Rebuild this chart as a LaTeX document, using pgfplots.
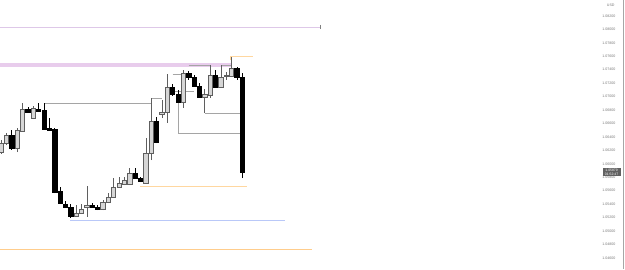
\documentclass[border=0pt]{standalone}
\usepackage{fontspec}
\setmainfont{Liberation Sans}
\usepackage{pgfplots}
\pgfplotsset{compat=1.18}
\definecolor{bullfill}{RGB}{214,214,214}
\definecolor{bulledge}{RGB}{95,95,95}
\definecolor{lav}{RGB}{232,204,236}
\definecolor{lavline}{RGB}{222,200,232}
\definecolor{org}{RGB}{255,215,160}
\definecolor{orgb}{RGB}{255,205,140}
\definecolor{blu}{RGB}{185,200,248}
\definecolor{conn}{RGB}{165,165,165}
\definecolor{axgray}{RGB}{120,120,120}
\pgfplotsset{
 bull/.style={draw=bulledge, fill=bullfill, line width=0.5pt, solid, mark=none},
 bear/.style={draw=black, fill=black, line width=0.5pt, solid, mark=none},
}
% prices in units of 0.0001 (price x 10000); candle index on x
\begin{document}
\begin{tikzpicture}
\begin{axis}[
 width=625pt, height=269pt, scale only axis,
 xmin=-0.19, xmax=116.4, ymin=10443.5, ymax=10843.8,
 axis line style={draw=none}, tick style={draw=none},
 xtick=\empty,
 ytick={10460,10480,10500,10520,10540,10560,10580,10600,10620,10640,10660,10680,10700,10720,10740,10760,10780,10800,10820},
 yticklabels={1.04600,1.04800,1.05000,1.05200,1.05400,1.05600,1.05800,1.06000,1.06200,1.06400,1.06600,1.06800,1.07000,1.07200,1.07400,1.07600,1.07800,1.08000,1.08200},
 yticklabel pos=right,
 scaled y ticks=false,
 yticklabel style={font=\fontsize{3.6}{4}\selectfont, text=axgray, anchor=east, xshift=-6pt},
 unbounded coords=jump,
]
% level lines
\addplot[lavline, line width=1pt] coordinates {(-0.5,10803.6) (59.5,10803.6)};
\addplot[black!50, line width=0.8pt] coordinates {(59.5,10806.6) (59.5,10800.6)};
\addplot[lav, line width=4.2pt] coordinates {(-0.5,10746.8) (43.1,10746.8)};
\addplot[orgb, line width=1.6pt] coordinates {(-0.5,10472.6) (58.0,10472.6)};
\addplot[blu, line width=1pt] coordinates {(12.9,10516.4) (53.0,10516.4)};
\addplot[org, line width=1pt] coordinates {(25.9,10567.0) (45.9,10567.0)};
\addplot[org, line width=1pt] coordinates {(42.9,10754.5) (42.9,10759.0) (47.0,10759.0)};
% connector lines
\addplot[conn, line width=0.6pt] coordinates {(8,10690.5) (28,10690.5)};
\addplot[conn, line width=0.6pt] coordinates {(28,10698.0) (30,10698.0)};
\addplot[conn, line width=0.6pt] coordinates {(33,10690.5) (33,10645.9) (45,10645.9)};
\addplot[conn, line width=0.6pt] coordinates {(38,10675.7) (45,10675.7)};
\addplot[conn, line width=0.6pt] coordinates {(32,10733.7) (34,10733.7)};
\addplot[conn, line width=0.6pt] coordinates {(35,10747.1) (39,10747.1)};
\addplot[conn, line width=0.6pt] coordinates {(41,10747.1) (43,10747.1)};
\addplot[conn, line width=0.6pt] coordinates {(32,10708.4) (36,10708.4)};
% wicks (low, high) of rising candles
\addplot[bulledge, line width=0.5pt] table {
x y
0 10614.7
0 10635.5
0 nan
1 10628.0
1 10645.9
1 nan
3 10617.6
3 10653.3
3 nan
4 10647.4
4 10690.5
4 nan
6 10666.7
6 10686.1
6 nan
14 10520.9
14 10538.8
14 nan
15 10525.4
15 10540.3
15 nan
16 10520.9
16 10567.0
16 nan
19 10531.3
19 10546.2
19 nan
20 10541.7
20 10556.6
20 nan
21 10550.7
21 10578.9
21 nan
22 10564.1
22 10580.4
22 nan
23 10568.5
23 10580.4
23 nan
24 10568.5
24 10593.8
24 nan
27 10571.5
27 10638.5
27 nan
28 10605.7
28 10698.0
28 nan
30 10668.2
30 10695.0
30 nan
31 10660.8
31 10733.7
31 nan
34 10683.1
34 10739.6
34 nan
38 10675.7
38 10711.4
38 nan
39 10698.0
39 10747.1
39 nan
41 10712.9
41 10747.1
41 nan
42 10724.8
42 10736.7
42 nan
43 10729.2
43 10759.0
};
% wicks (low, high) of falling candles
\addplot[black, line width=0.5pt] table {
x y
2 10620.6
2 10650.4
2 nan
5 10675.7
5 10684.6
5 nan
7 10678.6
7 10690.5
7 nan
8 10650.4
8 10690.5
8 nan
9 10648.9
9 10668.2
9 nan
10 10556.6
10 10653.3
10 nan
11 10540.3
11 10565.6
11 nan
12 10534.3
12 10544.7
12 nan
13 10519.4
13 10540.3
13 nan
17 10534.3
17 10541.7
17 nan
18 10531.3
18 10538.8
18 nan
25 10578.9
25 10593.8
25 nan
26 10573.0
26 10580.4
26 nan
29 10631.0
29 10669.7
29 nan
32 10701.0
32 10718.8
32 nan
33 10690.5
33 10709.9
33 nan
35 10724.8
35 10738.2
35 nan
36 10714.4
36 10732.2
36 nan
37 10698.0
37 10720.3
37 nan
40 10712.9
40 10739.6
40 nan
44 10724.8
44 10744.1
44 nan
45 10578.9
45 10735.2
};
% bodies (open/close)
\addplot[bull] coordinates {(-0.4,10617.6) (0.4,10617.6) (0.4,10631.0) (-0.4,10631.0)} --cycle;
\addplot[bull] coordinates {(0.6,10631.0) (1.4,10631.0) (1.4,10642.9) (0.6,10642.9)} --cycle;
\addplot[bear] coordinates {(1.6,10623.6) (2.4,10623.6) (2.4,10642.9) (1.6,10642.9)} --cycle;
\addplot[bull] coordinates {(2.6,10623.6) (3.4,10623.6) (3.4,10650.4) (2.6,10650.4)} --cycle;
\addplot[bull] coordinates {(3.6,10648.9) (4.4,10648.9) (4.4,10681.6) (3.6,10681.6)} --cycle;
\addplot[bear] coordinates {(4.6,10677.2) (5.4,10677.2) (5.4,10681.6) (4.6,10681.6)} --cycle;
\addplot[bull] coordinates {(5.6,10668.2) (6.4,10668.2) (6.4,10683.1) (5.6,10683.1)} --cycle;
\addplot[bear] coordinates {(6.6,10678.6) (7.4,10678.6) (7.4,10681.6) (6.6,10681.6)} --cycle;
\addplot[bear] coordinates {(7.6,10651.9) (8.4,10651.9) (8.4,10680.1) (7.6,10680.1)} --cycle;
\addplot[bear] coordinates {(8.6,10650.4) (9.4,10650.4) (9.4,10653.3) (8.6,10653.3)} --cycle;
\addplot[bear] coordinates {(9.6,10558.1) (10.4,10558.1) (10.4,10651.9) (9.6,10651.9)} --cycle;
\addplot[bear] coordinates {(10.6,10541.7) (11.4,10541.7) (11.4,10559.6) (10.6,10559.6)} --cycle;
\addplot[bear] coordinates {(11.6,10535.8) (12.4,10535.8) (12.4,10540.3) (11.6,10540.3)} --cycle;
\addplot[bear] coordinates {(12.6,10522.4) (13.4,10522.4) (13.4,10535.8) (12.6,10535.8)} --cycle;
\addplot[bull] coordinates {(13.6,10522.4) (14.4,10522.4) (14.4,10526.9) (13.6,10526.9)} --cycle;
\addplot[bull] coordinates {(14.6,10526.9) (15.4,10526.9) (15.4,10532.8) (14.6,10532.8)} --cycle;
\addplot[bull] coordinates {(15.6,10535.8) (16.4,10535.8) (16.4,10538.8) (15.6,10538.8)} --cycle;
\addplot[bear] coordinates {(16.6,10535.8) (17.4,10535.8) (17.4,10538.8) (16.6,10538.8)} --cycle;
\addplot[bear] coordinates {(17.6,10532.8) (18.4,10532.8) (18.4,10535.8) (17.6,10535.8)} --cycle;
\addplot[bull] coordinates {(18.6,10532.8) (19.4,10532.8) (19.4,10543.2) (18.6,10543.2)} --cycle;
\addplot[bull] coordinates {(19.6,10543.2) (20.4,10543.2) (20.4,10550.7) (19.6,10550.7)} --cycle;
\addplot[bull] coordinates {(20.6,10550.7) (21.4,10550.7) (21.4,10565.6) (20.6,10565.6)} --cycle;
\addplot[bull] coordinates {(21.6,10565.6) (22.4,10565.6) (22.4,10571.5) (21.6,10571.5)} --cycle;
\addplot[bull] coordinates {(22.6,10570.0) (23.4,10570.0) (23.4,10576.0) (22.6,10576.0)} --cycle;
\addplot[bull] coordinates {(23.6,10570.0) (24.4,10570.0) (24.4,10586.4) (23.6,10586.4)} --cycle;
\addplot[bear] coordinates {(24.6,10578.9) (25.4,10578.9) (25.4,10586.4) (24.6,10586.4)} --cycle;
\addplot[bear] coordinates {(25.6,10574.5) (26.4,10574.5) (26.4,10578.9) (25.6,10578.9)} --cycle;
\addplot[bull] coordinates {(26.6,10571.5) (27.4,10571.5) (27.4,10616.1) (26.6,10616.1)} --cycle;
\addplot[bull] coordinates {(27.6,10616.1) (28.4,10616.1) (28.4,10663.8) (27.6,10663.8)} --cycle;
\addplot[bear] coordinates {(28.6,10632.5) (29.4,10632.5) (29.4,10663.8) (28.6,10663.8)} --cycle;
\addplot[bull] coordinates {(29.6,10674.2) (30.4,10674.2) (30.4,10677.2) (29.6,10677.2)} --cycle;
\addplot[bull] coordinates {(30.6,10677.2) (31.4,10677.2) (31.4,10714.4) (30.6,10714.4)} --cycle;
\addplot[bear] coordinates {(31.6,10703.9) (32.4,10703.9) (32.4,10714.4) (31.6,10714.4)} --cycle;
\addplot[bear] coordinates {(32.6,10692.0) (33.4,10692.0) (33.4,10703.9) (32.6,10703.9)} --cycle;
\addplot[bull] coordinates {(33.6,10692.0) (34.4,10692.0) (34.4,10735.2) (33.6,10735.2)} --cycle;
\addplot[bear] coordinates {(34.6,10729.2) (35.4,10729.2) (35.4,10735.2) (34.6,10735.2)} --cycle;
\addplot[bear] coordinates {(35.6,10715.8) (36.4,10715.8) (36.4,10729.2) (35.6,10729.2)} --cycle;
\addplot[bear] coordinates {(36.6,10699.5) (37.4,10699.5) (37.4,10715.8) (36.6,10715.8)} --cycle;
\addplot[bull] coordinates {(37.6,10699.5) (38.4,10699.5) (38.4,10703.9) (37.6,10703.9)} --cycle;
\addplot[bull] coordinates {(38.6,10702.4) (39.4,10702.4) (39.4,10732.2) (38.6,10732.2)} --cycle;
\addplot[bear] coordinates {(39.6,10714.4) (40.4,10714.4) (40.4,10732.2) (39.6,10732.2)} --cycle;
\addplot[bull] coordinates {(40.6,10714.4) (41.4,10714.4) (41.4,10729.2) (40.6,10729.2)} --cycle;
\addplot[bull] coordinates {(41.6,10730.7) (42.4,10730.7) (42.4,10732.2) (41.6,10732.2)} --cycle;
\addplot[bull] coordinates {(42.6,10730.7) (43.4,10730.7) (43.4,10742.6) (42.6,10742.6)} --cycle;
\addplot[bear] coordinates {(43.6,10729.2) (44.4,10729.2) (44.4,10742.6) (43.6,10742.6)} --cycle;
\addplot[bear] coordinates {(44.6,10587.9) (45.4,10587.9) (45.4,10729.2) (44.6,10729.2)} --cycle;
% price scale decorations
\draw[black!35, line width=0.6pt] (rel axis cs:0.9965,0) -- (rel axis cs:0.9965,1);
\node[font=\fontsize{3.6}{4}\selectfont, text=axgray, anchor=east] at (axis cs:115.1,10836.4) {USD};
\node[fill=black!62, text=white, font=\fontsize{3.4}{4.2}\selectfont, align=center, inner xsep=1pt, inner ysep=1pt, minimum width=18pt] at (axis cs:113.9,10587.9) {1.05879\\01:52:47};
\end{axis}
\end{tikzpicture}
\end{document}
